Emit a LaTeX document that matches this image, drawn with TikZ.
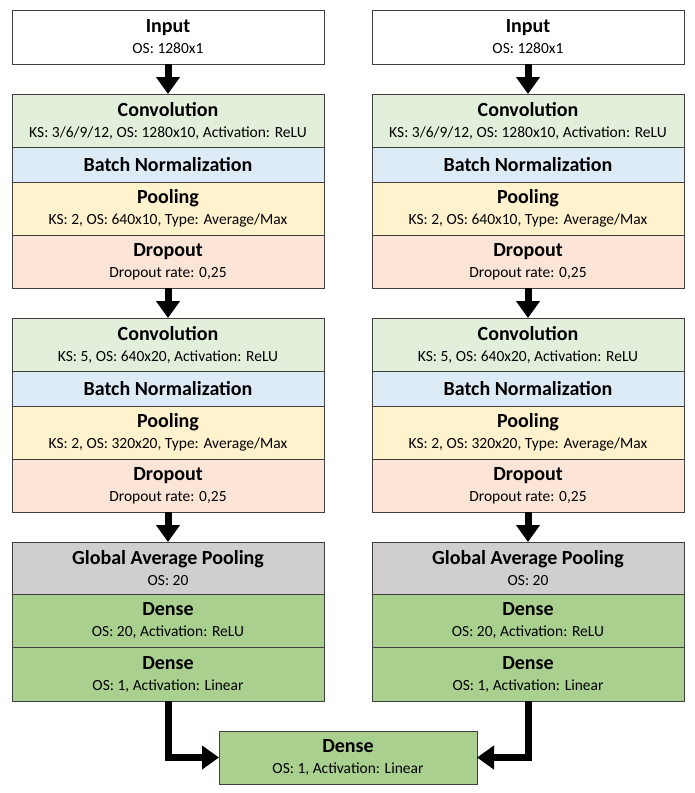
\documentclass[tikz,border=0pt]{standalone}
\usepackage{fontspec}
\setmainfont{Carlito}
\usetikzlibrary{positioning,arrows.meta}

\definecolor{edgegray}{HTML}{404040}
\definecolor{convgreen}{HTML}{E2EFDA}
\definecolor{normblue}{HTML}{DDEBF7}
\definecolor{poolyellow}{HTML}{FFF2CC}
\definecolor{droporange}{HTML}{FCE4D6}
\definecolor{gapgray}{HTML}{D0CECE}
\definecolor{densegreen}{HTML}{A9D08E}

% two-line layer text: title and settings
\newcommand{\lyr}[2]{{\fontsize{20}{21}\selectfont\bfseries #1}\\{#2}}

\begin{document}
\begin{tikzpicture}[x=1pt, y=1pt,
    layer/.style={draw=edgegray, line width=0.8pt, minimum width=312pt, minimum height=53pt,
        inner sep=0pt, outer sep=0pt, align=center, font=\fontsize{15.5}{21}\selectfont},
    normlayer/.style={layer, fill=normblue, minimum height=35pt},
    flow/.style={line width=7pt, -{Triangle[width=23pt,length=17pt]}}]
    \useasboundingbox (0,0) rectangle (694,-793);

    % Two parallel branches
    \foreach \side/\xc in {L/168,R/528} {
        \node[layer, minimum height=54pt] (in\side) at (\xc,-37) {\lyr{Input}{OS: 1280x1}};

        % first block
        \node[layer, fill=convgreen, below=30pt of in\side] (convA\side)
            {\lyr{Convolution}{KS: 3/6/9/12, OS: 1280x10, Activation: ReLU}};
        \node[normlayer, below=0pt of convA\side] (bnA\side)
            {\fontsize{20}{21}\selectfont\bfseries Batch Normalization};
        \node[layer, fill=poolyellow, below=0pt of bnA\side] (poolA\side)
            {\lyr{Pooling}{KS: 2, OS: 640x10, Type: Average/Max}};
        \node[layer, fill=droporange, below=0pt of poolA\side] (dropA\side)
            {\lyr{Dropout}{Dropout rate: 0,25}};

        % second block
        \node[layer, fill=convgreen, below=30pt of dropA\side] (convB\side)
            {\lyr{Convolution}{KS: 5, OS: 640x20, Activation: ReLU}};
        \node[normlayer, below=0pt of convB\side] (bnB\side)
            {\fontsize{20}{21}\selectfont\bfseries Batch Normalization};
        \node[layer, fill=poolyellow, below=0pt of bnB\side] (poolB\side)
            {\lyr{Pooling}{KS: 2, OS: 320x20, Type: Average/Max}};
        \node[layer, fill=droporange, below=0pt of poolB\side] (dropB\side)
            {\lyr{Dropout}{Dropout rate: 0,25}};

        % head
        \node[layer, fill=gapgray, minimum height=52pt, below=30pt of dropB\side] (gap\side)
            {\lyr{Global Average Pooling}{OS: 20}};
        \node[layer, fill=densegreen, below=0pt of gap\side] (denseA\side)
            {\lyr{Dense}{OS: 20, Activation: ReLU}};
        \node[layer, fill=densegreen, minimum height=54pt, below=0pt of denseA\side] (denseB\side)
            {\lyr{Dense}{OS: 1, Activation: Linear}};

        \draw[flow] (in\side) -- (convA\side);
        \draw[flow] (dropA\side) -- (convB\side);
        \draw[flow] (dropB\side) -- (gap\side);
    }

    % Merged output
    \node[layer, fill=densegreen, minimum width=258pt] (out) at (348,-757.5)
        {\lyr{Dense}{OS: 1, Activation: Linear}};
    \draw[flow] (denseBL.south) |- (out.west);
    \draw[flow] (denseBR.south) |- (out.east);
\end{tikzpicture}
\end{document}
